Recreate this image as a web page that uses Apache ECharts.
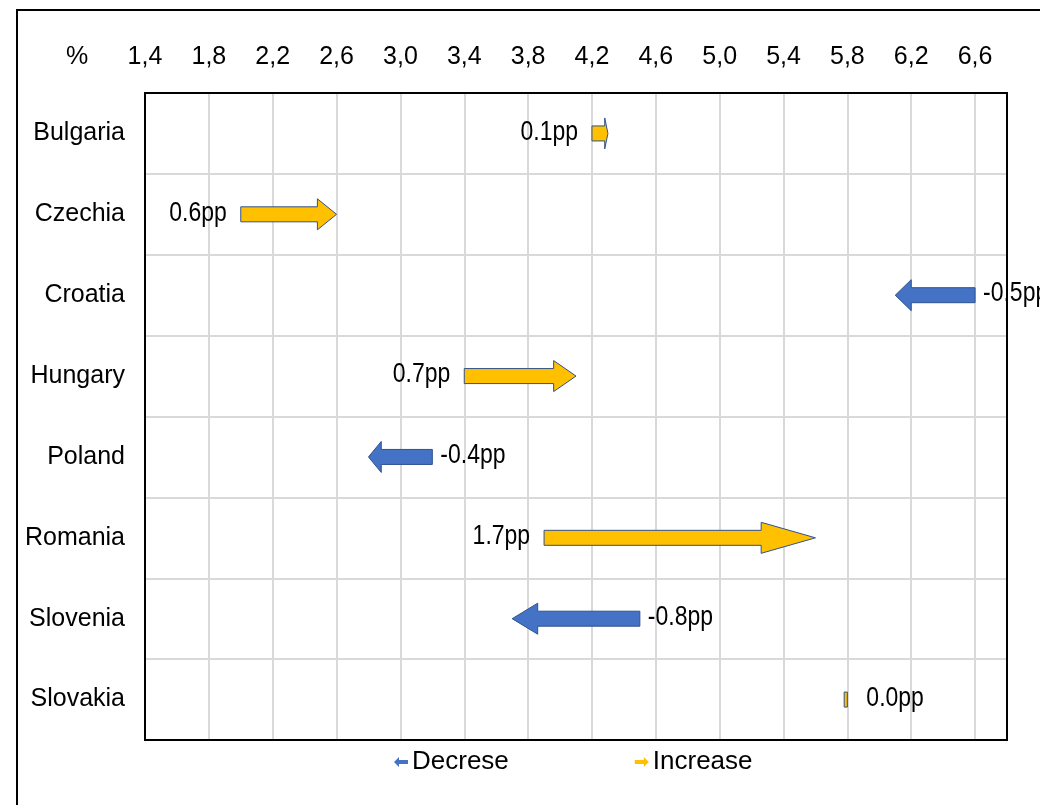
<!DOCTYPE html>
<html>
<head>
<meta charset="utf-8">
<script src="https://cdn.jsdelivr.net/npm/echarts@6/dist/echarts.min.js"></script>
<style>html,body{margin:0;padding:0;background:#fff;}#chart{width:1040px;height:805px;}</style>
</head>
<body>
<div id="chart"></div>
<script>
// ---- data ----
const countries = ['Bulgaria', 'Czechia', 'Croatia', 'Hungary', 'Poland', 'Romania', 'Slovenia', 'Slovakia'];
const startValues = [4.2, 2.0, 6.6, 3.4, 3.2, 3.9, 4.5, 5.78];
const endValues   = [4.3, 2.6, 6.1, 4.1, 2.8, 5.6, 3.7, 5.8];
const changeLabels = ['0.1pp', '0.6pp', '-0.5pp', '0.7pp', '-0.4pp', '1.7pp', '-0.8pp', '0.0pp'];
const tickValues = [1.4, 1.8, 2.2, 2.6, 3.0, 3.4, 3.8, 4.2, 4.6, 5.0, 5.4, 5.8, 6.2, 6.6];
const axisMin = 1.4, axisMax = 6.8;

const FONT = "'Liberation Sans', Arial, sans-serif";
const FS = 25;
const YELLOW = '#FFC000', BLUE = '#4472C4', OUTLINE = '#2F528F';

const GRID = {left: 145, top: 93, right: 33, bottom: 65};

function buildData(increase) {
  const out = [];
  countries.forEach((c, i) => {
    const inc = endValues[i] >= startValues[i];
    if (inc === increase) out.push([startValues[i], i, endValues[i]]);
  });
  return out;
}

function renderArrow(params, api) {
  const s = api.value(0), yi = api.value(1), e = api.value(2);
  const label = changeLabels[yi];
  const p0 = api.coord([s, yi]);
  const p1 = api.coord([e, yi]);
  const cy = p0[1];
  const len = Math.abs(p1[0] - p0[0]);
  const dir = p1[0] >= p0[0] ? 1 : -1;
  const bodyH = 7.5, headH = 15.5;
  let shape;
  const children = [];
  if (len < 6) {
    shape = {type: 'rect', shape: {x: Math.min(p0[0], p1[0]), y: cy - bodyH, width: Math.max(len, 3), height: bodyH * 2}};
  } else {
    const hl = len * 0.2;
    const hb = p1[0] - dir * hl;
    const pts = [
      [p0[0], cy - bodyH], [hb, cy - bodyH], [hb, cy - headH], [p1[0], cy],
      [hb, cy + headH], [hb, cy + bodyH], [p0[0], cy + bodyH]
    ];
    shape = {type: 'polygon', shape: {points: pts}};
  }
  shape.style = {fill: dir > 0 ? YELLOW : BLUE, stroke: OUTLINE, lineWidth: 1};
  children.push(shape);
  const labelLeft = (e - s) > 0.05;
  let tx, align;
  if (labelLeft) { tx = p0[0] - 14; align = 'right'; }
  else if (dir < 0) { tx = p0[0] + 8; align = 'left'; }
  else { tx = Math.max(p0[0], p1[0]) + 19; align = 'left'; }
  children.push({
    type: 'text',
    x: tx, y: cy - 1.5, scaleX: 0.82,
    style: {text: label, x: 0, y: 0, align: align, verticalAlign: 'middle',
            fontSize: 28, fontFamily: FONT, fill: '#000'}
  });
  return {type: 'group', children: children};
}

const chart = echarts.init(document.getElementById('chart'), null, {renderer: 'canvas'});
const option = {
  backgroundColor: '#fff',
  animation: false,
  textStyle: {fontFamily: FONT},
  grid: {left: GRID.left, top: GRID.top, right: GRID.right, bottom: GRID.bottom, containLabel: false},
  xAxis: {
    type: 'value', position: 'top', min: axisMin, max: axisMax,
    axisLine: {show: false},
    axisTick: {show: false, customValues: tickValues.slice(1)},
    axisLabel: {customValues: tickValues, margin: 23, fontSize: FS, fontFamily: FONT, color: '#000',
                formatter: v => v.toFixed(1).replace('.', ',')},
    splitLine: {show: true, lineStyle: {color: '#D9D9D9', width: 2}}
  },
  yAxis: {
    type: 'category', data: countries, inverse: true,
    axisLine: {show: false}, axisTick: {show: false},
    axisLabel: {margin: 20, fontSize: FS, fontFamily: FONT, color: '#000'},
    splitLine: {show: true, lineStyle: {color: '#D9D9D9', width: 2}}
  },
  legend: {
    left: 389, top: 744, itemWidth: 14, itemHeight: 11, itemGap: 126,
    textStyle: {fontSize: 26, fontFamily: FONT, color: '#000', padding: [0, 0, 0, -1]},
    data: [
      {name: 'Decrese', icon: 'path://M0,5 L5,0 L5,3 L14,3 L14,7 L5,7 L5,10 Z'},
      {name: 'Increase', icon: 'path://M14,5 L9,0 L9,3 L0,3 L0,7 L9,7 L9,10 Z'}
    ]
  },
  series: [
    {name: 'Decrese', type: 'custom', clip: false, renderItem: renderArrow,
     itemStyle: {color: BLUE}, encode: {x: [0, 2], y: 1}, data: buildData(false)},
    {name: 'Increase', type: 'custom', clip: false, renderItem: renderArrow,
     itemStyle: {color: YELLOW}, encode: {x: [0, 2], y: 1}, data: buildData(true)}
  ],
  graphic: [
    {type: 'rect', z: 100, silent: true,
     shape: {x: GRID.left, y: GRID.top, width: 1040 - GRID.left - GRID.right, height: 805 - GRID.top - GRID.bottom},
     style: {fill: 'none', stroke: '#000', lineWidth: 2}},
    {type: 'rect', z: 100, silent: true,
     shape: {x: 17, y: 10, width: 1100, height: 900},
     style: {fill: 'none', stroke: '#000', lineWidth: 2}},
    {type: 'text', left: 66, top: 45, z: 100,
     style: {text: '%', fontSize: FS, fontFamily: FONT, fill: '#000'}}
  ]
};
chart.setOption(option);
</script>
</body>
</html>
